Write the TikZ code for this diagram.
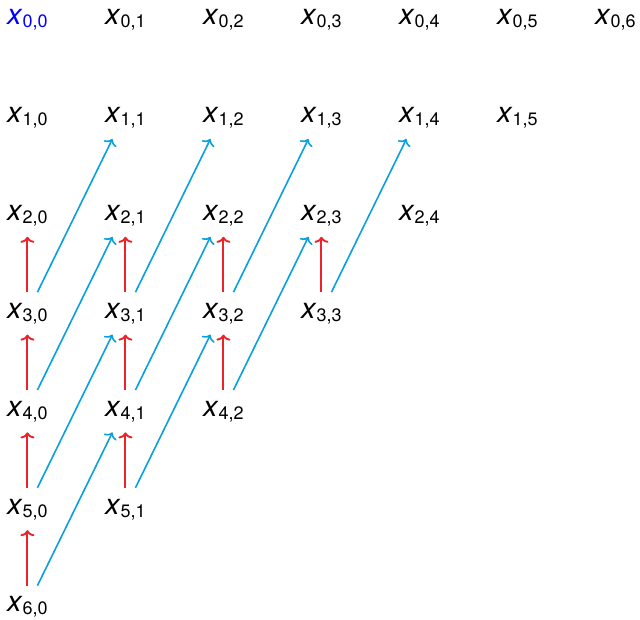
\documentclass[tikz,border=0pt]{standalone}
\usepackage{fontspec}
\setmainfont{TeX Gyre Heros}
\usetikzlibrary{arrows.meta}
\definecolor{StepRed}{HTML}{EE2229}
\definecolor{JumpBlue}{HTML}{0AA0E0}
\definecolor{HeadBlue}{HTML}{0000FF}
\newcommand{\xlab}[2]{\textit{x}\raisebox{-3pt}{\fontsize{18}{18}\selectfont #1,#2}}

\begin{document}
\begin{tikzpicture}[
    x=1pt, y=-1pt,
    entry/.style={
      anchor=base west,
      inner xsep=0pt,
      inner ysep=10pt,
      text height=16pt,
      text depth=6pt,
      font=\fontsize{29}{34}\selectfont,
    },
    stepup/.style={draw=StepRed, line width=1.9pt, -{To[length=6pt,width=14pt]}},
    jump/.style={draw=JumpBlue, line width=1.6pt, -{To[length=6pt,width=14pt]}},
  ]
    \useasboundingbox (0,0) rectangle (640,620);
    % table of entries
    \foreach \r in {0,...,6} {
      \pgfmathtruncatemacro\last{6-\r}
      \foreach \c in {0,...,\last} {
        \edef\ink{\ifnum\r\c=0 HeadBlue\else black\fi}
        \node[entry, text=\ink] (x\r\c) at (7+98*\c, 25+97.8*\r) {\xlab{\r}{\c}};
      }
    }
    % arrows
    \foreach \r in {3,...,6} {
      \pgfmathtruncatemacro\last{6-\r}
      \pgfmathtruncatemacro\up{\r-1}
      \pgfmathtruncatemacro\two{\r-2}
      \foreach \c in {0,...,\last} {
        \pgfmathtruncatemacro\nx{\c+1}
        \draw[stepup] (x\r\c.north) -- (x\up\c.south);
        \draw[jump] ([xshift=10pt]x\r\c.north) -- ([xshift=-13pt]x\two\nx.south);
      }
    }
\end{tikzpicture}
\end{document}
